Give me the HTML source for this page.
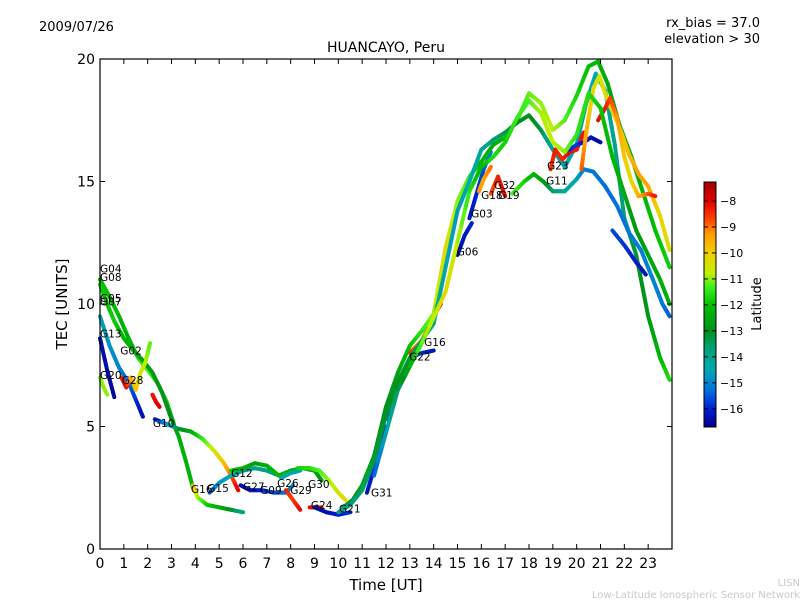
<!DOCTYPE html>
<html><head><meta charset="utf-8"><style>
body{margin:0;background:#fff;}
svg{display:block;font-family:"DejaVu Sans","Liberation Sans",sans-serif;}
</style></head><body>
<svg id="chart" width="800" height="600">
<rect width="800" height="600" fill="#fff"/>
<text x="39" y="31" font-size="13">2009/07/26</text>
<text x="760" y="27" font-size="13" text-anchor="end">rx_bias = 37.0</text>
<text x="760" y="43" font-size="13" text-anchor="end">elevation &gt; 30</text>
<text x="386" y="52" font-size="14" text-anchor="middle">HUANCAYO, Peru</text>
<g id="marks"></g>
<g id="labels"></g>
<rect x="100" y="59" width="572" height="490" fill="none" stroke="#000" stroke-width="1.2"/>
<g id="xaxis"></g>
<g id="yaxis"></g>
<text x="386" y="590" font-size="15" text-anchor="middle">Time [UT]</text>
<text transform="translate(67,304) rotate(-90)" font-size="15" text-anchor="middle">TEC [UNITS]</text>
<defs><linearGradient id="cbgrad" x1="0" y1="1" x2="0" y2="0"></linearGradient></defs>
<rect x="704" y="182" width="12" height="245" fill="url(#cbgrad)" stroke="#000" stroke-width="1"/>
<g id="cbticks"></g>
<text transform="translate(761,304) rotate(-90)" font-size="13" text-anchor="middle">Latitude</text>
<text x="800" y="586" font-size="10" fill="#c8c8c8" text-anchor="end">LISN</text>
<text x="800" y="598" font-size="10" fill="#c8c8c8" text-anchor="end">Low-Latitude Ionospheric Sensor Network</text>
</svg>
<script>
const xTicks=[0,1,2,3,4,5,6,7,8,9,10,11,12,13,14,15,16,17,18,19,20,21,22,23];
const yTicks=[0,5,10,15,20];
const cbTicks=[-8,-9,-10,-11,-12,-13,-14,-15,-16];
const latMin=-16.7, latMax=-7.27;
const stopLat=[-16.7,-16,-15.3,-14.5,-13.6,-13,-12,-11.3,-10.8,-10,-9.3,-8.7,-8,-7.27];
const stopCol=["#00008c","#0020d0","#0070e0","#00a8b0","#00a070","#00901a","#00c000","#40f020","#c0f000","#f0d000","#ffa000","#ff4000","#e00000","#a00000"];
const trackNames=["G04","G08","G13","G20","G07","G28","G28b","G10","G16","G15","G12","G27","G26","G29","G24","G21","G30","G31","G22","G16b","G06","G03","GA","GB","G11","G23","G23b","GE","GF","G32","G18","GC","GD"];
const trackT=[
[0,0.4,0.8,1.2,1.6,2.0,2.4,2.8,3.1],
[0,0.3,0.6,1.0,1.4,1.8,2.2,2.6,3.0,3.3,3.6,3.9],
[0,0.4,0.8,1.2,1.5,1.8],
[0,0.3,0.6],
[0,0.15,0.3],
[0.9,1.1,1.3,1.5,1.7,1.9,2.1],
[2.2,2.35,2.5],
[2.3,2.8,3.3,3.8,4.3,4.8,5.2,5.5,5.8],
[3.9,4.1,4.5,5.0,5.5,6.0],
[4.6,5.0,5.5,6.0,6.5,7.0,7.5],
[5.5,6.0,6.5,7.0,7.5,8.0,8.5,9.0,9.3],
[5.9,6.3,6.8,7.3,7.8,8.1],
[7.6,8.0,8.4],
[7.8,8.1,8.4],
[8.8,9.3],
[9.0,9.5,10.0,10.5],
[8.3,8.8,9.2,9.6,10.0,10.3],
[11.2,11.6,12.0],
[12.0,12.5,13.0,13.5,14.0],
[13.0,13.5,14.0,14.3],
[15.0,15.3,15.6],
[15.5,15.8,16.1,16.4],
[10.2,10.6,11.0,11.5,12.0,12.5,13.0,13.5,14.0,14.5,15.0,15.5,16.0,16.5,17.0,17.5,18.0,18.5,19.0,19.5,20.0,20.5,20.9,21.3,21.8,22.3,22.8,23.3,23.9],
[10.0,10.5,11.0,11.5,12.0,12.5,13.0,13.5,14.0,14.5,15.0,15.5,16.0,16.5,17.0,17.5,18.0,18.5,19.0,19.5,20.0,20.4,20.8,21.2,21.6,22.0,22.5,23.0,23.5,23.9],
[17.3,17.8,18.2,18.6,19.0,19.5,20.0,20.3,20.7,21.2,21.7,22.2,22.7,23.2,23.6,23.9],
[18.9,19.1,19.4,19.7,20.0,20.3],
[19.7,20.0,20.3,20.6,21.0],
[20.2,20.4,20.7,20.95,21.3,21.8,22.2,22.6,23.0,23.5,23.9],
[20.9,21.2,21.4,21.7,22.0,22.3,22.6,23.0,23.3],
[16.4,16.7,17.0],
[15.9,16.1,16.4],
[11.5,12.5,13.5,14.5,15.5,16.0,16.5,17.0,17.5,18.0,18.5,19.0,19.5,20.0,20.5,21.0,21.5,22.0,22.5,23.0,23.5,23.9],
[21.5,22.0,22.5,22.9]
];
const trackTec=[
[11.0,10.3,9.5,8.6,7.8,7.3,6.8,6.0,5.1],
[10.8,10.0,9.3,8.6,8.1,7.7,7.2,6.4,5.3,4.6,3.6,2.5],
[9.5,8.3,7.4,6.8,6.1,5.4],
[8.6,7.3,6.2],
[7.0,6.6,6.3],
[7.0,6.6,7.0,6.5,7.2,7.6,8.4],
[6.3,6.0,5.8],
[5.3,5.1,4.9,4.8,4.5,4.0,3.5,3.0,2.4],
[2.6,2.1,1.8,1.7,1.6,1.5],
[2.3,2.7,3.0,3.2,3.3,3.2,3.0],
[3.2,3.3,3.5,3.4,3.0,3.2,3.3,3.2,2.8],
[2.6,2.4,2.4,2.3,2.3,2.6],
[2.9,3.1,3.2],
[2.4,2.0,1.6],
[1.7,1.7],
[1.7,1.5,1.4,1.5],
[3.3,3.3,3.2,2.8,2.3,2.0],
[2.3,3.6,5.0],
[5.3,6.8,7.8,8.0,8.1],
[8.0,8.5,9.5,10.0],
[12.0,12.8,13.3],
[13.5,14.5,15.5,16.2],
[1.7,2.0,2.6,3.8,5.8,7.2,8.3,8.9,9.6,12.3,14.2,15.2,15.8,16.5,16.8,17.5,18.6,18.2,17.1,17.5,18.5,19.7,19.9,19.0,17.3,16.0,14.5,13.0,11.5],
[1.5,1.8,2.4,3.6,5.5,6.8,7.8,8.5,9.2,11.5,13.8,15.0,16.3,16.7,17.0,17.4,17.7,17.1,16.3,15.6,16.5,18.2,19.4,18.7,16.5,13.5,12.0,9.5,7.8,6.9],
[14.5,15.0,15.3,15.0,14.6,14.6,15.1,15.5,15.4,14.8,14.0,12.9,12.2,11.0,10.0,9.5],
[15.5,16.3,15.9,16.2,16.3,17.0],
[16.3,16.5,16.6,16.8,16.6],
[15.5,17.0,18.8,19.3,18.3,17.2,16.1,15.3,14.8,13.6,12.2],
[17.5,18.0,18.4,17.6,16.0,15.0,14.4,14.5,14.4],
[14.5,15.2,14.4],
[14.6,15.1,15.6],
[3.0,6.5,8.4,10.5,14.6,15.6,16.0,16.6,17.6,18.3,17.8,16.6,16.2,16.9,18.6,18.0,16.0,14.5,13.0,12.0,11.0,10.0],
[13.0,12.4,11.7,11.2]
];
const trackLat=[
[-12,-12,-12.2,-12.4,-11.6,-11.2,-11.6,-11.8,-12],
[-11.8,-12,-11.8,-12.2,-12.4,-12.6,-12.8,-12.9,-13,-12.4,-12.3,-12.2],
[-14.5,-14.8,-15,-15.3,-15.8,-16.4],
[-16.3,-16.4,-16.5],
[-11,-11,-11],
[-8.4,-8,-9.5,-9.8,-10.5,-10.8,-11.2],
[-8.3,-8.1,-8],
[-16.1,-15,-13.3,-12.5,-11.5,-10.6,-9.8,-9,-8],
[-9.5,-10.8,-11.8,-12.3,-13,-14],
[-15.5,-14.8,-14.5,-14.2,-14,-13.8,-14],
[-11.8,-12.3,-12.7,-12.4,-12.1,-12.3,-12.6,-12.5,-12.8],
[-16.4,-16.2,-16,-15.7,-15.3,-14.8],
[-14.6,-14.4,-14.3],
[-8.3,-8.7,-8.1],
[-8.1,-8.2],
[-16.4,-16.3,-16.1,-15.8],
[-11.8,-11.6,-11.3,-11,-10.6,-10.2],
[-16.2,-16,-15.8],
[-15.6,-15.4,-15.2,-15.8,-16.3],
[-8.4,-9.2,-8.6,-8.2],
[-16.4,-16.2,-16],
[-16.2,-16,-15.6,-15],
[-13.5,-13,-12.5,-12.6,-13,-12.6,-12,-11.5,-11,-10.2,-11,-11.3,-12.2,-12.5,-12.1,-11.5,-11.2,-11,-10.8,-11.2,-11.7,-12,-12.2,-12.5,-12.6,-12.4,-12.2,-12,-11.8],
[-14,-13.8,-13.6,-13.3,-13.1,-13,-13.2,-13.5,-14,-14.5,-14.7,-14.5,-14.2,-13.7,-13.4,-13.1,-12.9,-13.2,-14.2,-14.5,-14.6,-14.6,-14.5,-14.3,-14.0,-13.6,-13.2,-12.8,-12.2,-11.6],
[-11.2,-11.7,-12.2,-12.6,-13.6,-14.2,-14.6,-15.0,-15.2,-15.3,-15.3,-15.2,-15.1,-15.0,-15.2,-15.5],
[-8.6,-8.3,-8.5,-8.1,-8.3,-8.2],
[-16.0,-15.7,-16.1,-16.3,-16.4],
[-8.8,-9.5,-10.3,-10.6,-10.2,-10.0,-9.7,-9.3,-9.4,-10.1,-10.4],
[-8.1,-8.3,-8.6,-9.2,-9.9,-10.3,-9.6,-8.9,-8.3],
[-8.8,-8.4,-8.1],
[-9.2,-9.4,-9.0],
[-15.5,-13.5,-11.2,-10.2,-11.5,-12.2,-11.6,-11.8,-11.4,-11.3,-10.9,-10.8,-11.0,-11.5,-11.6,-11.9,-12.2,-12.5,-12.8,-12.6,-12.4,-12.4],
[-15.6,-15.8,-16.1,-16.3]
];
const labelNames=["G04","G08","G05","G07","G13","G02","G20","G28","G10","G16","G15","G12","G27","G09","G26","G29","G30","G24","G21","G31","G16","G22","G06","G03","G18","G32","G19","G23","G11"];
const labelT=[0,0,0,0,0,0.85,0,0.92,2.22,3.82,4.5,5.5,6.0,6.72,7.43,7.98,8.73,8.85,10.03,11.37,13.6,12.97,14.97,15.57,15.99,16.53,16.7,18.76,18.72];
const labelTec=[11.45,11.1,10.25,10.1,8.8,8.1,7.1,6.9,5.15,2.45,2.5,3.1,2.55,2.4,2.7,2.4,2.65,1.8,1.65,2.3,8.45,7.85,12.15,13.7,14.45,14.85,14.45,15.65,15.05];

const NS="http://www.w3.org/2000/svg";
const X0=100,X1=672,Y0=549,Y1=59;
function xs(t){return X0+(t/24)*(X1-X0);}
function ys(v){return Y0-(v/20)*(Y0-Y1);}
function cy(l){return 427-(l-latMin)/(latMax-latMin)*245;}
function hex(h){return [parseInt(h.substr(1,2),16),parseInt(h.substr(3,2),16),parseInt(h.substr(5,2),16)];}
function color(l){
  if(l<=stopLat[0])return stopCol[0];
  for(let i=1;i<stopLat.length;i++){
    if(l<=stopLat[i]){
      const f=(l-stopLat[i-1])/(stopLat[i]-stopLat[i-1]);
      const a=hex(stopCol[i-1]),b=hex(stopCol[i]);
      return "rgb("+a.map((v,k)=>Math.round(v+(b[k]-v)*f)).join(",")+")";
    }
  }
  return stopCol[stopCol.length-1];
}
function mk(tag,attrs,parent){const e=document.createElementNS(NS,tag);for(const k in attrs)e.setAttribute(k,attrs[k]);parent.appendChild(e);return e;}

const grad=document.getElementById("cbgrad");
stopLat.forEach((l,i)=>{mk("stop",{offset:((l-latMin)/(latMax-latMin)),"stop-color":stopCol[i]},grad);});

const marks=document.getElementById("marks");
trackT.forEach((ts,i)=>{
  const g=mk("g",{},marks);
  
  
  for(let j=0;j<ts.length-1;j++){
    const SUB=6;
    for(let s=0;s<SUB;s++){
      const f0=s/SUB,f1=(s+1)/SUB;
      const t0=ts[j]+(ts[j+1]-ts[j])*f0,t1=ts[j]+(ts[j+1]-ts[j])*f1;
      const v0=trackTec[i][j]+(trackTec[i][j+1]-trackTec[i][j])*f0,v1=trackTec[i][j]+(trackTec[i][j+1]-trackTec[i][j])*f1;
      const lm=trackLat[i][j]+(trackLat[i][j+1]-trackLat[i][j])*(f0+f1)/2;
      const ln=mk("line",{x1:xs(t0),y1:ys(v0),x2:xs(t1),y2:ys(v1),stroke:color(lm),"stroke-width":4,"stroke-linecap":"round"},g);
      
      
    }
  }
});

const labels=document.getElementById("labels");
labelNames.forEach((n,i)=>{
  const t=mk("text",{x:xs(labelT[i]),y:ys(labelTec[i])+4,"font-size":10.5},labels);
  t.textContent=n;
  
  
});

const xa=document.getElementById("xaxis");
xTicks.forEach(v=>{
  const x=xs(v);
  mk("line",{x1:x,y1:Y0,x2:x,y2:Y0-5,stroke:"#000"},xa);
  mk("line",{x1:x,y1:Y1,x2:x,y2:Y1+5,stroke:"#000"},xa);
  const t=mk("text",{x:x,y:568,"font-size":14,"text-anchor":"middle"},xa);
  t.textContent=v;
  
  
});
const ya=document.getElementById("yaxis");
yTicks.forEach(v=>{
  const y=ys(v);
  mk("line",{x1:X0,y1:y,x2:X0+5,y2:y,stroke:"#000"},ya);
  mk("line",{x1:X1,y1:y,x2:X1-5,y2:y,stroke:"#000"},ya);
  const t=mk("text",{x:95,y:y+5,"font-size":14,"text-anchor":"end"},ya);
  t.textContent=v;
  
  
});
const cb=document.getElementById("cbticks");
cbTicks.forEach(v=>{
  const y=cy(v);
  mk("line",{x1:712,y1:y,x2:716,y2:y,stroke:"#000"},cb);
  mk("line",{x1:704,y1:y,x2:708,y2:y,stroke:"#000"},cb);
  const t=mk("text",{x:720,y:y+4,"font-size":11},cb);
  t.textContent="\u2212"+Math.abs(v);
  
  
});
</script>
</body></html>
